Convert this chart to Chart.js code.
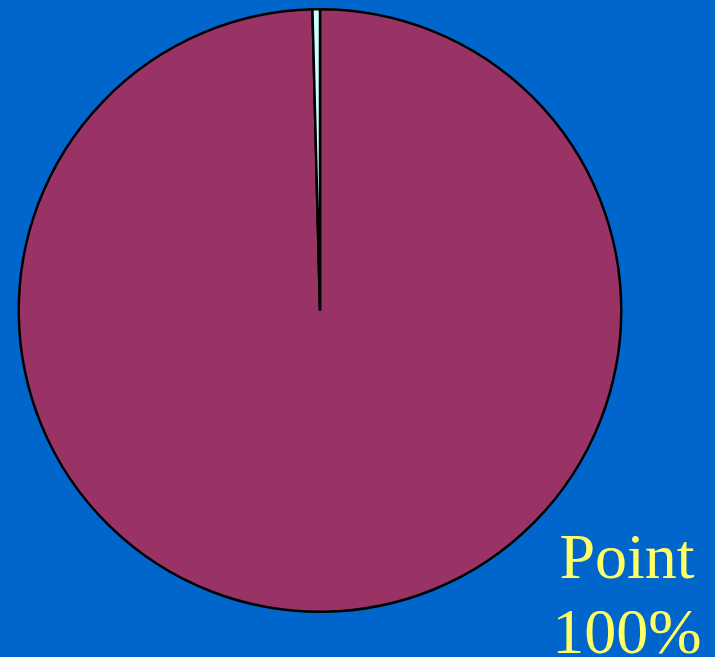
<!DOCTYPE html>
<html>
<head>
<meta charset="utf-8">
<script src="https://cdn.jsdelivr.net/npm/chart.js@4.4.0/dist/chart.umd.min.js"></script>
<style>
    html, body { margin: 0; padding: 0; background: #0066cc; }
    #wrap { width: 715px; height: 657px; }
</style>
</head>
<body>
<div id="wrap"><canvas id="chart"></canvas></div>
<script>
// ===== Pie: one dominant slice =====
const categories = ['Point', 'Other'];
const sliceValues = [99.6, 0.4];
const sliceColors = ['#993366', '#ccffff'];

// Label for the big slice, drawn bottom right like the original
const sideLabel = {
    id: 'sideLabel',
    afterDraw(chart) {
        const { ctx } = chart;
        const data = chart.data.datasets[0].data;
        const total = data.reduce((a, b) => a + b, 0);
        const pct = Math.round(data[0] / total * 100) + '%';
        ctx.save();
        ctx.fillStyle = '#ffff66';
        ctx.font = '64px "Liberation Serif", "DejaVu Serif", serif';
        ctx.textAlign = 'center';
        ctx.textBaseline = 'alphabetic';
        ctx.fillText(chart.data.labels[0], 627, 578);
        ctx.fillText(pct, 627, 653);
        ctx.restore();
    },
};

new Chart(document.getElementById('chart'), {
    type: 'pie',
    data: {
        labels: categories,
        datasets: [{
            data: sliceValues,
            backgroundColor: sliceColors,
            borderColor: '#000000',
            borderWidth: 2.5,
        }],
    },
    options: {
        responsive: true,
        maintainAspectRatio: false,
        animation: false,
        layout: { padding: { left: 17, right: 92, top: 8, bottom: 44 } },
        plugins: {
            legend: { display: false },
            tooltip: { enabled: false },
        },
    },
    plugins: [sideLabel],
});
</script>
</body>
</html>
